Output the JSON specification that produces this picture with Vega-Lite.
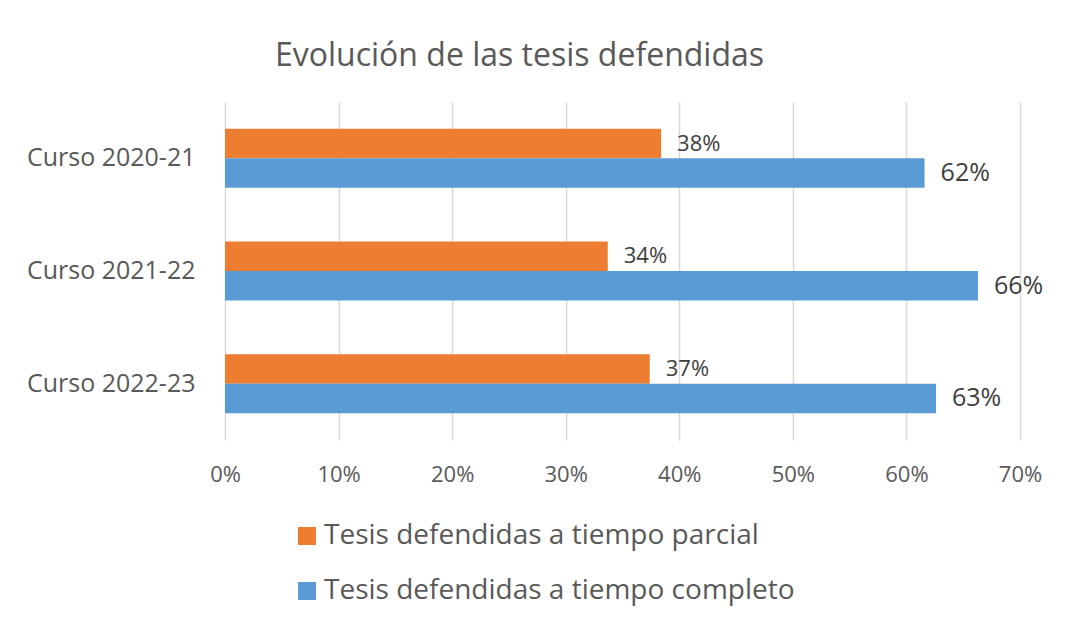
{
  "$schema": "https://vega.github.io/schema/vega-lite/v6.json",
  "autosize": "none",
  "width": 795,
  "height": 338,
  "padding": {"left": 225, "top": 102, "right": 45, "bottom": 184},
  "background": "white",
  "config": {
    "font": "Open Sans",
    "view": {"stroke": null}
  },
  "title": {
    "text": "Evolución de las tesis defendidas",
    "fontSize": 32,
    "fontWeight": "normal",
    "color": "#595959",
    "anchor": "middle",
    "dx": -103,
    "offset": 4,
    "baseline": "alphabetic"
  },
  "data": {
    "values": [
      {"curso": "Curso 2020-21", "serie": "Tesis defendidas a tiempo parcial", "valor": 0.384},
      {"curso": "Curso 2020-21", "serie": "Tesis defendidas a tiempo completo", "valor": 0.616},
      {"curso": "Curso 2021-22", "serie": "Tesis defendidas a tiempo parcial", "valor": 0.337},
      {"curso": "Curso 2021-22", "serie": "Tesis defendidas a tiempo completo", "valor": 0.663},
      {"curso": "Curso 2022-23", "serie": "Tesis defendidas a tiempo parcial", "valor": 0.374},
      {"curso": "Curso 2022-23", "serie": "Tesis defendidas a tiempo completo", "valor": 0.626}
    ]
  },
  "encoding": {
    "y": {
      "field": "curso",
      "type": "nominal",
      "title": null,
      "scale": {"paddingInner": 0.476, "paddingOuter": 0.238},
      "axis": {
        "ticks": false,
        "domain": false,
        "grid": false,
        "labelFontSize": 25,
        "labelColor": "#595959",
        "labelPadding": 30
      }
    },
    "yOffset": {
      "field": "serie",
      "type": "nominal",
      "sort": ["Tesis defendidas a tiempo parcial", "Tesis defendidas a tiempo completo"],
      "scale": {"paddingInner": 0, "paddingOuter": 0}
    },
    "x": {
      "field": "valor",
      "type": "quantitative",
      "title": null,
      "scale": {"domain": [0, 0.7], "nice": false},
      "axis": {
        "format": ".0%",
        "values": [0, 0.1, 0.2, 0.3, 0.4, 0.5, 0.6, 0.7],
        "ticks": false,
        "domain": false,
        "grid": true,
        "gridColor": "#D9D9D9",
        "gridWidth": 1.5,
        "labelFontSize": 22,
        "labelColor": "#595959",
        "labelPadding": 24,
        "labelFlush": false,
        "labelOverlap": false
      }
    }
  },
  "layer": [
    {
      "mark": {"type": "bar"},
      "encoding": {
        "color": {
          "field": "serie",
          "type": "nominal",
          "scale": {
            "domain": ["Tesis defendidas a tiempo parcial", "Tesis defendidas a tiempo completo"],
            "range": ["#ED7D31", "#5B9BD5"]
          },
          "legend": {
            "title": null,
            "orient": "none",
            "legendX": 68,
            "legendY": 420,
            "direction": "vertical",
            "padding": 0,
            "symbolType": "square",
            "symbolSize": 324,
            "symbolStrokeWidth": 0,
            "labelFontSize": 28,
            "labelColor": "#595959",
            "labelOffset": 3,
            "rowPadding": 27,
            "labelLimit": 600
          }
        }
      }
    },
    {
      "transform": [{"filter": "datum.serie === 'Tesis defendidas a tiempo parcial'"}],
      "mark": {"type": "text", "align": "left", "baseline": "middle", "dx": 16, "fontSize": 22, "color": "#404040"},
      "encoding": {"text": {"field": "valor", "type": "quantitative", "format": ".0%"}}
    },
    {
      "transform": [{"filter": "datum.serie === 'Tesis defendidas a tiempo completo'"}],
      "mark": {"type": "text", "align": "left", "baseline": "middle", "dx": 16, "fontSize": 25, "color": "#404040"},
      "encoding": {"text": {"field": "valor", "type": "quantitative", "format": ".0%"}}
    }
  ]
}
